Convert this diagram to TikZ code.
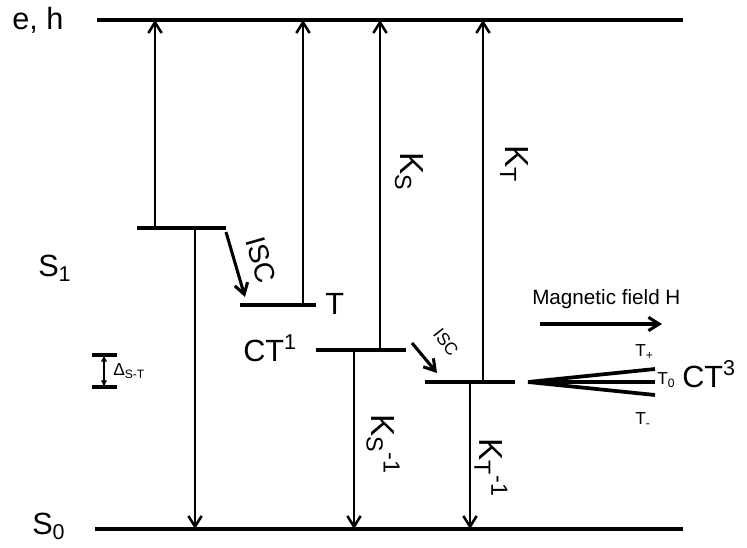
\documentclass[tikz,border=0pt]{standalone}
\usepackage{fontspec}
\setmainfont{Liberation Sans}
\usetikzlibrary{arrows.meta}

\begin{document}
\begin{tikzpicture}[x=0.75pt, y=-0.75pt, every node/.style={font=\fontsize{23}{26}\selectfont, inner sep=0pt}, lvl/.style={line width=2.8pt}, arr/.style={line width=1.9pt, -{Straight Barb[length=8pt,width=10pt]}}, mid/.style={font=\fontsize{15.5}{18}\selectfont}, sml/.style={font=\fontsize{13}{15}\selectfont}, kl/.style={rotate=-90, font=\fontsize{25}{28}\selectfont}]
	\useasboundingbox (0,0) rectangle (747,548);
	% continuum and ground state
	\coordinate (eh0) at (97,20); \coordinate (eh1) at (683,20);
	\coordinate (gs0) at (95,529); \coordinate (gs1) at (683,529);
	\draw[lvl] (eh0) -- (eh1); \draw[lvl] (gs0) -- (gs1);
	% levels
	\coordinate (S1a) at (137,228); \coordinate (S1b) at (226,228);
	\coordinate (Ta) at (240,305); \coordinate (Tb) at (316,305);
	\coordinate (CTa) at (316,350); \coordinate (CTb) at (406,350);
	\coordinate (CT3a) at (425,382); \coordinate (CT3b) at (515,382);
	\foreach \a/\b in {S1a/S1b, Ta/Tb, CTa/CTb, CT3a/CT3b} {\draw[lvl] (\a) -- (\b);}
	% up and down transitions
	\coordinate (u1) at (155,228); \coordinate (u2) at (303,305); \coordinate (u3) at (380,350); \coordinate (u4) at (483,382);
	\coordinate (d1) at (195,228); \coordinate (d2) at (354,350); \coordinate (d3) at (470,382);
	\foreach \p in {u1,u2,u3,u4} {\draw[arr] (\p) -- (\p |- eh0);}
	\foreach \p in {d1,d2,d3} {\draw[arr] (\p) -- (\p |- gs0);}
	% intersystem crossing
	\coordinate (i1) at (226,232); \coordinate (i1e) at (245,297);
	\coordinate (i2) at (412,343); \coordinate (i2e) at (437,373);
	\draw[arr, line width=2.3pt] (i1) -- (i1e); \draw[arr, line width=2.3pt] (i2) -- (i2e);
	% triplet splitting
	\coordinate (fan) at (528,382); \coordinate (Tp) at (655,369); \coordinate (Tz) at (655,382); \coordinate (Tm) at (655,395);
	\foreach \p in {Tp,Tz,Tm} {\draw[lvl] (fan) -- (\p);}
	\coordinate (h0) at (540,324); \coordinate (h1) at (662,324);
	\draw[arr, line width=2.3pt] (h0) -- (h1);
	% singlet-triplet gap
	\coordinate (g0) at (92,355); \coordinate (g1) at (117,355); \coordinate (g2) at (92,387); \coordinate (g3) at (117,387);
	\coordinate (gt) at (104,355); \coordinate (gb) at (104,387);
	\draw[lvl] (g0) -- (g1); \draw[lvl] (g2) -- (g3);
	\draw[line width=1.8pt, {Latex[length=5pt,width=5pt]}-{Latex[length=5pt,width=5pt]}] (gt) -- (gb);
	% labels
	\node[anchor=base] (leh) at (38,30) {e, h};
	\node[anchor=base west] (lS1) at (38,277) {S\textsubscript{1}};
	\node[anchor=base west] (lS0) at (32,535) {S\textsubscript{0}};
	\node[anchor=base west] (lT) at (325,315) {T};
	\node[anchor=base west] (lCT1) at (243,362) {CT\textsuperscript{1}};
	\node[anchor=base west] (lCT3) at (682,388) {CT\textsuperscript{3}};
	\node[mid, anchor=base west] (lH) at (532,305) {Magnetic field H};
	\node[sml, anchor=base west] (lTp) at (635,357) {T\textsubscript{+}};
	\node[sml, anchor=base west] (lTz) at (657,385) {T\textsubscript{0}};
	\node[sml, anchor=base west] (lTm) at (635,425) {T\textsubscript{-}};
	\node[anchor=base west, font=\fontsize{13}{15}\selectfont] (lgap) at (113,376) {Δ\textsubscript{S-T}};
	\node[kl] (lKS) at (409,172) {K\textsubscript{S}};
	\node[kl] (lKSi) at (383,444) {K\textsubscript{S}\textsuperscript{-1}};
	\node[kl] (lKT) at (514,164) {K\textsubscript{T}};
	\node[kl] (lKTi) at (491,468) {K\textsubscript{T}\textsuperscript{-1}};
	\node[rotate=-74, font=\fontsize{21}{24}\selectfont] (lisc1) at (261,260) {ISC};
	\node[rotate=-52, font=\fontsize{13}{15}\selectfont] (lisc2) at (446,342) {ISC};
\end{tikzpicture}
\end{document}
